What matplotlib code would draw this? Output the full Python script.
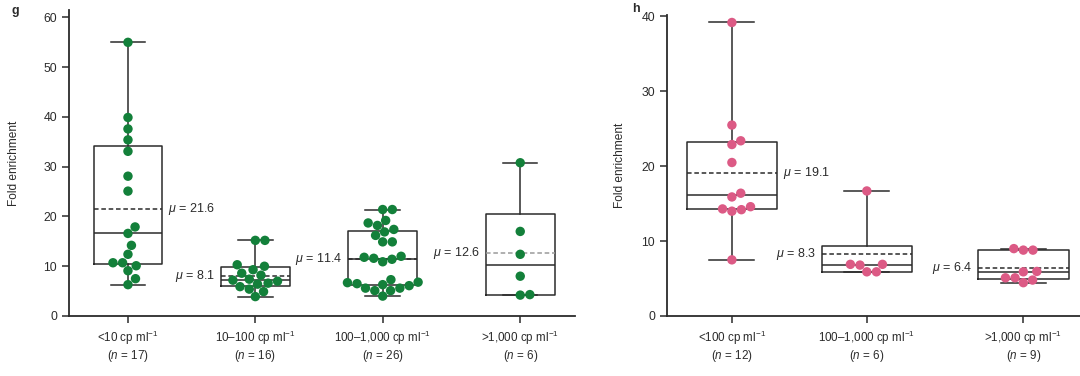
import matplotlib

matplotlib.use("Agg")
import matplotlib.pyplot as plt
import numpy as np

plt.rcParams["font.family"] = ["Liberation Sans", "DejaVu Sans"]
plt.rcParams["mathtext.fontset"] = "custom"
plt.rcParams["mathtext.rm"] = "Liberation Sans"
plt.rcParams["mathtext.it"] = "Liberation Sans:italic"

# panel g: fold enrichment by viral load
cats_g = ["<10", "10–100", "100–1,000", ">1,000"]
n_g = [17, 16, 26, 6]
vals_g = [
    [55.0, 39.9, 37.6, 35.4, 33.1, 28.1, 25.1, 17.9, 16.6, 14.2, 12.4, 10.7, 10.7, 10.1, 9.1, 7.5, 6.3],
    [15.2, 15.2, 10.3, 10.0, 9.3, 8.6, 8.2, 7.4, 7.2, 7.0, 6.6, 6.4, 5.9, 5.4, 4.9, 3.9],
    [21.4, 21.4, 19.2, 18.7, 18.2, 17.4, 16.9, 16.2, 14.9, 14.9, 12.0, 11.8, 11.6, 11.4, 10.9,
     7.3, 6.8, 6.7, 6.5, 6.3, 6.1, 5.6, 5.6, 5.1, 5.1, 4.0],
    [30.8, 17.0, 12.4, 8.0, 4.3, 4.2],
]
means_g = [21.6, 8.1, 11.4, 12.6]

# panel h
cats_h = ["<100", "100–1,000", ">1,000"]
n_h = [12, 6, 9]
vals_h = [
    [39.2, 25.5, 23.4, 22.9, 20.5, 16.4, 15.9, 14.6, 14.3, 14.2, 14.0, 7.5],
    [16.7, 6.9, 6.9, 6.8, 5.9, 5.9],
    [9.0, 8.8, 8.8, 5.95, 5.9, 5.1, 5.1, 4.8, 4.45],
]
means_h = [19.1, 8.3, 6.4]

GREEN = "#13803a"
PINK = "#dc5a85"
INK = "#2b2b2b"


def swarm_x(ax, x0, ys, diam):
    """simple beeswarm in pixel space, returns data x for each y"""
    ys = np.asarray(ys, float)
    pix = ax.transData.transform(np.column_stack([np.full(len(ys), x0), ys]))
    px0 = pix[0, 0]
    order = np.argsort(pix[:, 1])
    placed = []
    xs = np.zeros(len(ys))
    for i in order:
        yp = pix[i, 1]
        cands = [0.0]
        for (xq, yq) in placed:
            dy = yp - yq
            if abs(dy) < diam:
                dx = np.sqrt(diam**2 - dy**2) + 0.01
                cands += [xq + dx, xq - dx]
        cands.sort(key=abs)
        for c in cands:
            if all((c - xq) ** 2 + (yp - yq) ** 2 >= diam**2 - 0.05 for xq, yq in placed):
                break
        placed.append((c, yp))
        xs[i] = c
    back = ax.transData.inverted().transform(np.column_stack([px0 + xs, pix[:, 1]]))
    return back[:, 0]


def panel(ax, vals, means, pos, width, color, sides, ylim, yticks, cats, ns, gray_mean=()):
    ax.set_xlim(*ylim[0])
    ax.set_ylim(*ylim[1])
    stats = []
    for v, m in zip(vals, means):
        q1, med, q3 = np.percentile(v, [25, 50, 75], method="weibull")
        stats.append(dict(med=med, q1=q1, q3=q3, whislo=min(v), whishi=max(v), mean=m, fliers=[]))
    lp = dict(color=INK, lw=1.1)
    art = ax.bxp(stats, positions=pos, widths=width, showmeans=True, meanline=True,
                 showfliers=False, boxprops=lp, whiskerprops=lp, capprops=lp,
                 medianprops=lp, meanprops=dict(color=INK, lw=1.1, ls=(0, (3, 1.8))))
    for i in gray_mean:
        art["means"][i].set_color("#9a9a9a")
    for v, p in zip(vals, pos):
        xs = swarm_x(ax, p, v, 9.6)
        ax.scatter(xs, v, s=46, color=color, edgecolors="none", zorder=3)
    for p, m, side in zip(pos, means, sides):
        if side == "right":
            ax.annotate(f"$\\mu$ = {m}", (p + width / 2, m), xytext=(4, 0),
                        textcoords="offset points", ha="left", va="center",
                        fontsize=9, color=INK)
        else:
            ax.annotate(f"$\\mu$ = {m}", (p - width / 2, m), xytext=(-4, 0),
                        textcoords="offset points", ha="right", va="center",
                        fontsize=9, color=INK)
    ax.set_xticks(pos)
    ax.set_xticklabels([f"{c} cp ml$^{{-1}}$\n($n$ = {n})" for c, n in zip(cats, ns)],
                       fontsize=8.4, color=INK, linespacing=1.1)
    ax.set_yticks(yticks)
    ax.tick_params(axis="y", labelsize=8.8, colors=INK, length=5, width=1.1)
    ax.tick_params(axis="x", length=5, width=1.1, colors=INK, pad=4)
    for s in ("top", "right"):
        ax.spines[s].set_visible(False)
    for s in ("left", "bottom"):
        ax.spines[s].set_linewidth(1.3)
        ax.spines[s].set_color(INK)
    ax.set_ylabel("Fold enrichment", fontsize=8.6, color=INK)


fig = plt.figure(figsize=(10.8, 3.76), dpi=100)

ax1 = fig.add_axes([69 / 1080, 60 / 376, 506 / 1080, 306 / 376])
panel(ax1, vals_g, means_g, [0, 1, 2, 3.08], 0.54, GREEN,
      ["right", "left", "left", "left"], ((-0.463, 3.51), (0, 61.5)),
      range(0, 61, 10), cats_g, n_g, gray_mean=(3,))
ax1.yaxis.set_label_coords(-0.097, 0.5)

ax2 = fig.add_axes([667 / 1080, 60 / 376, 413 / 1080, 301 / 376])
panel(ax2, vals_h, means_h, [0, 1, 2.16], 0.67, PINK,
      ["right", "left", "left"], ((-0.481, 2.58), (0, 40.2)),
      range(0, 41, 10), cats_h, n_h)
ax2.yaxis.set_label_coords(-0.10, 0.5)

fig.text(0.011, 0.972, "g", fontsize=9, fontweight="bold", color=INK, va="center")
fig.text(0.585, 0.975, "h", fontsize=9, fontweight="bold", color=INK, va="center")

fig.savefig("out.png", dpi=100)
